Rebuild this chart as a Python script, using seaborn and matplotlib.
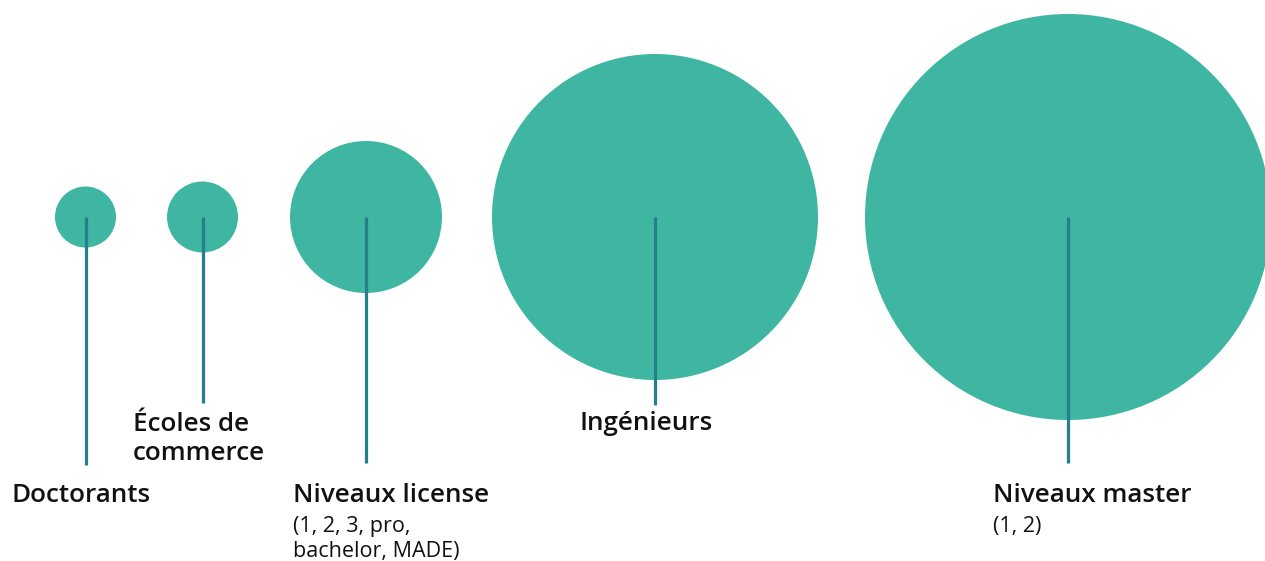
import matplotlib.pyplot as plt
import seaborn as sns
from matplotlib.patches import Circle

# Données (rayon des cercles en pixels)
categories = ['Doctorants', 'Écoles de\ncommerce', 'Niveaux license', 'Ingénieurs', 'Niveaux master']
sous_titres = ['', '', '(1, 2, 3, pro,\nbachelor, MADE)', '', '(1, 2)']
rayons = [30.5, 35.5, 76, 163, 203]

# mise en page
centres_x = [85.5, 202.5, 366, 655, 1068]
centre_y = 217
fin_ligne = [465, 403, 463, 405, 463]
texte_x = [11, 133, 293, 580, 993]
texte_y = [502, 431, 502, 430, 502]

sns.set_theme(style='white')
plt.rcParams['font.family'] = ['Open Sans', 'DejaVu Sans']

fig = plt.figure(figsize=(12.65, 5.61), dpi=100)
ax = fig.add_axes([0, 0, 1, 1])
ax.set_xlim(0, 1265)
ax.set_ylim(561, 0)
ax.axis('off')

vert = '#3fb6a2'
bleu = '#257f8c'

for i, cat in enumerate(categories):
    ax.add_patch(Circle((centres_x[i], centre_y), rayons[i], color=vert, lw=0, zorder=1))
    ax.plot([centres_x[i], centres_x[i]], [centre_y, fin_ligne[i]], color=bleu, lw=2.3,
            solid_capstyle='butt', zorder=2)
    y = texte_y[i]
    for ligne in cat.split('\n'):
        ax.text(texte_x[i], y, ligne, fontsize=18.7, fontweight='semibold', color='#111111',
                va='baseline', ha='left')
        y += 29
    if sous_titres[i]:
        y = texte_y[i] + 30
        for ligne in sous_titres[i].split('\n'):
            ax.text(texte_x[i], y, ligne, fontsize=15.5, color='#111111',
                    va='baseline', ha='left')
            y += 25

fig.savefig('out.png', dpi=100)
